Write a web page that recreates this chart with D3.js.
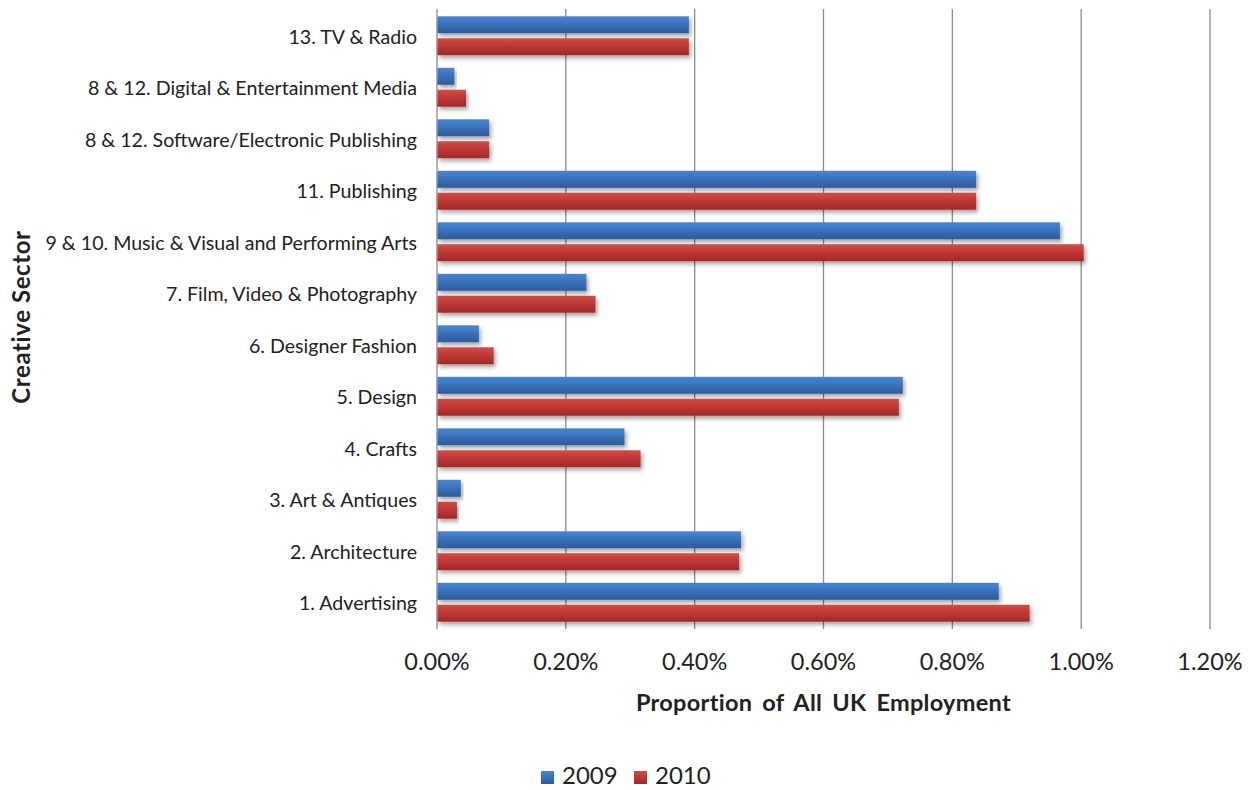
<!DOCTYPE html>
<html><head><meta charset="utf-8">
<script src="https://cdn.jsdelivr.net/npm/d3@7"></script>
<style>
html,body{margin:0;padding:0;background:#fff;}
svg{display:block;}
text{font-family:Lato,"Open Sans",sans-serif;fill:#222;}
</style></head>
<body><svg id="c" width="1255" height="790"></svg>
<script>
const categories = ["13. TV & Radio","8 & 12. Digital & Entertainment Media","8 & 12. Software/Electronic Publishing","11. Publishing","9 & 10. Music & Visual and Performing Arts","7. Film, Video & Photography","6. Designer Fashion","5. Design","4. Crafts","3. Art & Antiques","2. Architecture","1. Advertising"];
const series = ["2009","2010"];
const values2009 = [0.391,0.027,0.081,0.837,0.967,0.232,0.065,0.723,0.291,0.037,0.472,0.872];
const values2010 = [0.391,0.045,0.081,0.837,1.004,0.246,0.088,0.717,0.316,0.031,0.469,0.920];
const xTicks = [0,0.2,0.4,0.6,0.8,1.0,1.2];

(function(){
const svg = d3.select("#c");
const pL = 437, pR = 1210, pT = 9, pB = 629;
const x = d3.scaleLinear().domain([0,1.2]).range([pL,pR]);
const y = d3.scaleBand().domain(categories).range([pT+1,pB-1]).paddingInner(0.245).paddingOuter(0.1225);
const y2 = d3.scaleBand().domain(series).range([0,y.bandwidth()]).paddingInner(0.227);

const defs = svg.append("defs");
const grads = {"2009":["#4686d6","#3a70b8","#2d5a99"],"2010":["#d44b45","#bd3734","#9d2a28"]};
series.forEach(s=>{
  const g = defs.append("linearGradient").attr("id","g"+s).attr("x1",0).attr("y1",0).attr("x2",0).attr("y2",1);
  g.append("stop").attr("offset","0%").attr("stop-color",grads[s][0]);
  g.append("stop").attr("offset","50%").attr("stop-color",grads[s][1]);
  g.append("stop").attr("offset","100%").attr("stop-color",grads[s][2]);
});
const f = defs.append("filter").attr("id","sh").attr("x","-5%").attr("y","-30%").attr("width","115%").attr("height","180%");
f.append("feDropShadow").attr("dx",2).attr("dy",3).attr("stdDeviation",2).attr("flood-color","#000").attr("flood-opacity",0.35);

// gridlines
svg.append("g").selectAll("line").data(xTicks).join("line")
  .attr("x1",d=>x(d)).attr("x2",d=>x(d)).attr("y1",pT).attr("y2",pB)
  .attr("stroke","#8c8c8c").attr("stroke-width",1.3);

// bars
const data = categories.map((c,i)=>({c, v:{"2009":values2009[i],"2010":values2010[i]}}));
const gc = svg.append("g").selectAll("g").data(data).join("g")
  .attr("transform",d=>`translate(0,${y(d.c)})`);
gc.selectAll("rect").data(d=>series.map(s=>({s,v:d.v[s]}))).join("rect")
  .attr("x",x(0)+0.5).attr("y",d=>y2(d.s)).attr("height",y2.bandwidth())
  .attr("width",d=>x(d.v)-x(0)-0.5)
  .attr("fill",d=>`url(#g${d.s})`).attr("filter","url(#sh)");

// category labels
svg.append("g").selectAll("text").data(categories).join("text")
  .attr("x",417).attr("y",d=>y(d)+y.bandwidth()/2).attr("dy","0.4em")
  .attr("text-anchor","end").attr("font-size",19.6).text(d=>d);

// x tick labels
svg.append("g").selectAll("text").data(xTicks).join("text")
  .attr("x",d=>x(d)).attr("y",670).attr("text-anchor","middle")
  .attr("font-size",23.5).text(d=>d3.format(".2%")(d/100));

// axis titles
svg.append("text").attr("x",(pL+pR)/2).attr("y",711).attr("text-anchor","middle")
  .attr("font-size",23.5).attr("font-weight","bold").attr("word-spacing",4).attr("letter-spacing",0.3).text("Proportion of All UK Employment");
svg.append("text").attr("transform","translate(30,317) rotate(-90)").attr("text-anchor","middle")
  .attr("font-size",24).attr("font-weight","bold").attr("letter-spacing",0.6).text("Creative Sector");

// legend
const lg = svg.append("g").selectAll("g").data(series).join("g")
  .attr("transform",(d,i)=>`translate(${541+i*93},771)`);
lg.append("rect").attr("width",13).attr("height",13).attr("fill",d=>`url(#g${d})`);
lg.append("text").attr("x",21).attr("y",13).attr("font-size",24).text(d=>d);
})();
</script></body></html>
